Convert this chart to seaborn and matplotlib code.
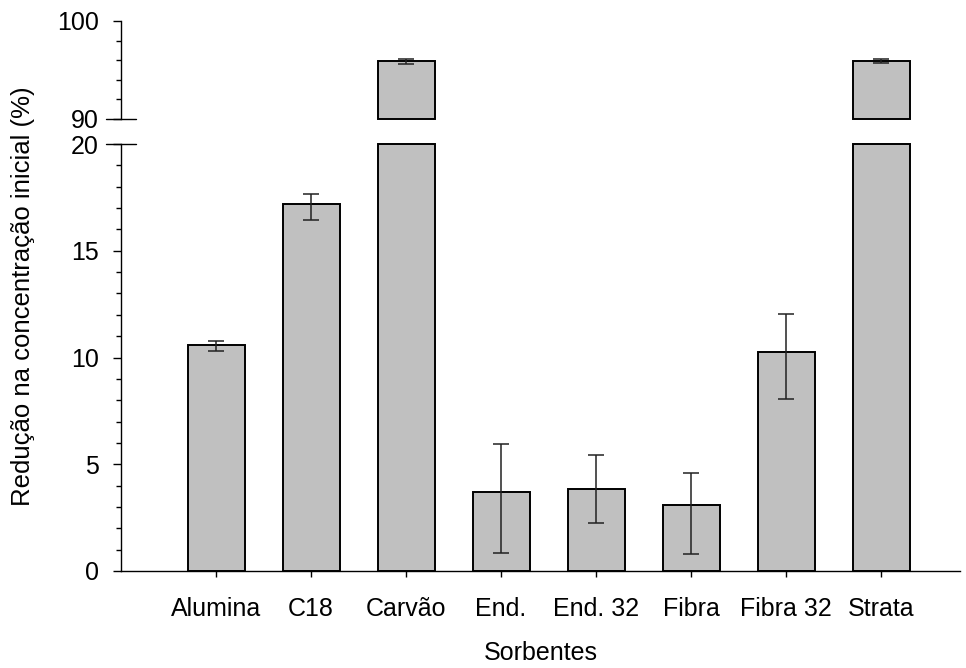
import matplotlib
matplotlib.use("Agg")
import matplotlib.pyplot as plt
import matplotlib.transforms as mtransforms
from matplotlib.ticker import MultipleLocator
import seaborn as sns

# dados
sorbentes = ["Alumina", "C18", "Carvão", "End.", "End. 32", "Fibra", "Fibra 32", "Strata"]
reducao = [10.6, 17.17, 95.89, 3.72, 3.84, 3.09, 10.28, 95.95]
erro_inf = [0.30, 0.75, 0.28, 2.88, 1.59, 2.29, 2.22, 0.24]
erro_sup = [0.17, 0.50, 0.23, 2.25, 1.61, 1.52, 1.77, 0.20]

sns.set_style("ticks")
plt.rcParams['font.family'] = ['Liberation Sans', 'DejaVu Sans']
plt.rcParams['font.size'] = 18
for k in ['text.color', 'axes.labelcolor', 'xtick.color', 'ytick.color', 'axes.edgecolor']:
    plt.rcParams[k] = 'black'

fig = plt.figure(figsize=(9.66, 6.68), dpi=100)
W, H = 966, 668
x0, x1 = 121, 960
ax_top = fig.add_axes([x0 / W, (H - 119) / H, (x1 - x0) / W, 98 / H])
ax_bot = fig.add_axes([x0 / W, (H - 571) / H, (x1 - x0) / W, 427 / H])

bar_kw = dict(color='#c0c0c0', edgecolor='black', linewidth=1.4, width=0.6,
              saturation=1, errorbar=None)
sns.barplot(x=sorbentes, y=reducao, ax=ax_top, **bar_kw)
sns.barplot(x=sorbentes, y=reducao, ax=ax_bot, **bar_kw)

# parte de cima das barras começa em 90, parte de baixo termina em 20
for p in ax_top.patches:
    h = p.get_height()
    if h > 90:
        p.set_y(90)
        p.set_height(h - 90)
        p.set_clip_on(False)
for p in ax_bot.patches:
    if p.get_height() > 20:
        p.set_height(20)
        p.set_clip_on(False)

for ax in (ax_top, ax_bot):
    ax.errorbar(range(len(sorbentes)), reducao, yerr=[erro_inf, erro_sup], fmt='none',
                ecolor='#222222', elinewidth=1.1, capsize=5.5, capthick=1.1)
    ax.set_xlim(-1, 7.83)
    for s in ['top', 'right']:
        ax.spines[s].set_visible(False)
    ax.spines['left'].set_linewidth(1.0)
    ax.spines['bottom'].set_linewidth(1.0)
    ax.tick_params(axis='y', which='major', length=6, width=1.0, pad=10,
                   labelsize=18, direction='out')
    ax.tick_params(axis='y', which='minor', length=3.5, width=1.0, direction='out')
    ax.set_ylabel('')
    ax.set_xlabel('')

ax_top.set_ylim(90, 100)
ax_top.yaxis.set_major_locator(MultipleLocator(10))
ax_top.yaxis.set_minor_locator(MultipleLocator(2))
ax_top.spines['bottom'].set_visible(False)
ax_top.tick_params(axis='x', bottom=False, labelbottom=False)
ax_top.set_facecolor('none')

ax_bot.set_ylim(0, 20)
ax_bot.yaxis.set_major_locator(MultipleLocator(5))
ax_bot.yaxis.set_minor_locator(MultipleLocator(1))
ax_bot.tick_params(axis='x', length=4, width=1.0, pad=15, labelsize=18)
ax_bot.set_facecolor('none')

# marcas de quebra do eixo
for ax, yv in ((ax_top, 90), (ax_bot, 20)):
    tr = mtransforms.blended_transform_factory(ax.transAxes, ax.transData)
    ax.plot([-0.018, 0.018], [yv, yv], color='black', lw=1.0,
            transform=tr, clip_on=False)

ax_bot.set_xlabel('Sorbentes', fontsize=18, labelpad=14)
fig.text(0.024, (H - 296) / H, 'Redução na concentração inicial (%)',
         rotation=90, ha='center', va='center', fontsize=18.5)

fig.savefig('out.png', dpi=100)
